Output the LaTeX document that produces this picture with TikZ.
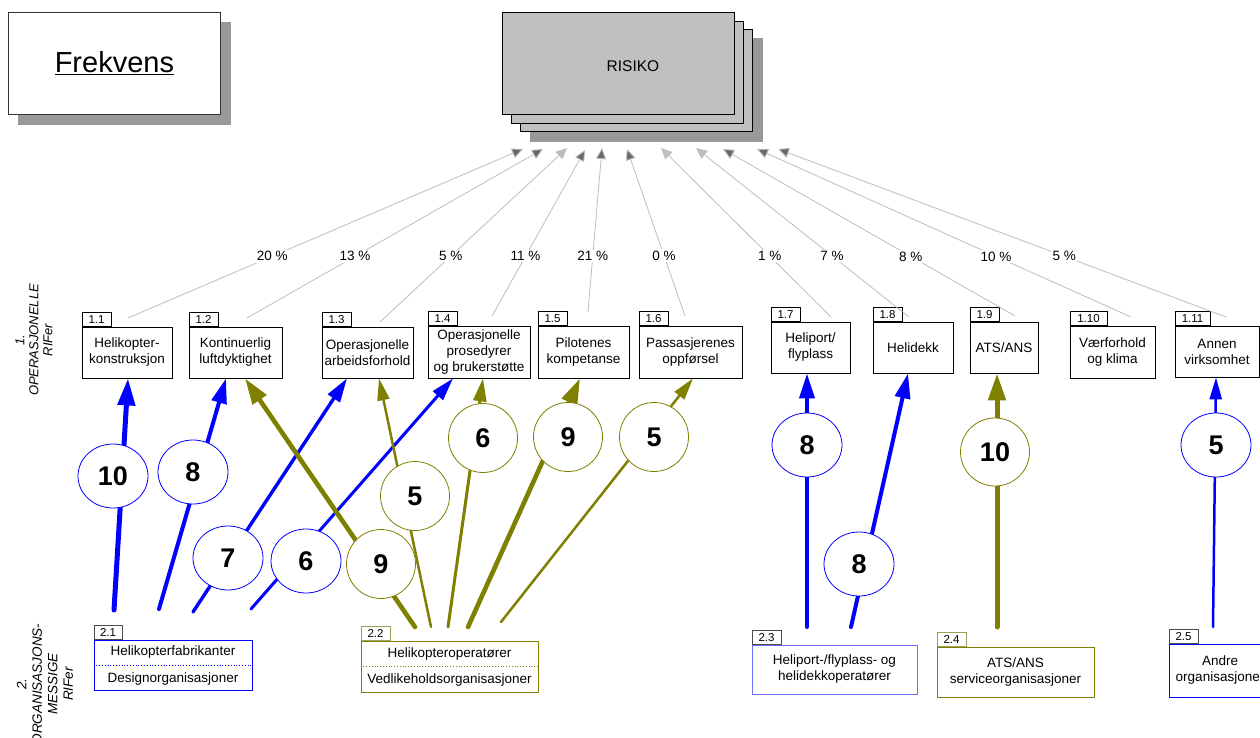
\documentclass[tikz,border=0pt]{standalone}
\usepackage{fontspec}
\setmainfont{Liberation Sans}
\usetikzlibrary{arrows.meta,shapes.geometric}
\definecolor{myblue}{RGB}{0,0,255}
\definecolor{myolive}{RGB}{128,128,0}
\definecolor{shadowgray}{RGB}{153,153,153}
\definecolor{riskgray}{RGB}{192,192,192}
\definecolor{linegray}{RGB}{190,190,190}
\definecolor{hatchgray}{RGB}{105,105,105}
\definecolor{lightblue}{RGB}{110,110,255}
\definecolor{tabolive}{RGB}{160,160,90}
\begin{document}
\begin{tikzpicture}[x=1pt,y=-1pt,
  rif/.style={draw=black, line width=0.8pt, fill=white, align=center,
    font=\fontsize{13.5}{16}\selectfont, inner sep=0pt},
  tab/.style={draw=black, line width=0.8pt, fill=white, anchor=south west,
    font=\fontsize{11.5}{12}\selectfont, inner sep=0pt, minimum height=14pt, minimum width=29pt},
  orgbox/.style={line width=0.8pt, fill=white, align=center,
    font=\fontsize{13.5}{16}\selectfont, inner sep=0pt},
  orgtxt/.style={font=\fontsize{13.5}{16}\selectfont, inner sep=0pt},
  riskbox/.style={draw=black, line width=0.8pt, fill=riskgray, inner sep=0pt, anchor=north west},
  shadowbox/.style={fill=shadowgray, draw=none, inner sep=0pt, anchor=north west},
  riskline/.style={draw=linegray, line width=0.8pt, -{Triangle[length=11pt,width=10pt,fill=linegray]}},
  hatchline/.style={draw=linegray, line width=0.8pt, -{Triangle[length=11pt,width=10pt,fill=hatchgray]}},
  pct/.style={fill=white, inner sep=1.5pt, font=\fontsize{13.5}{14}\selectfont},
  bcirc/.style={ellipse, draw=myblue, line width=0.8pt, fill=white, minimum width=70pt, minimum height=64pt,
    inner sep=0pt, font=\fontsize{27}{28}\selectfont\bfseries},
  ocirc/.style={ellipse, draw=myolive, line width=0.8pt, fill=white, minimum width=69pt, minimum height=69pt,
    inner sep=0pt, font=\fontsize{27}{28}\selectfont\bfseries},
  w10/.style={line width=5pt, line cap=round, -{Triangle[length=27pt,width=17pt]}},
  w9/.style={line width=4.6pt, line cap=round, -{Triangle[length=26pt,width=16pt]}},
  w8/.style={line width=4pt, line cap=round, -{Triangle[length=25pt,width=15pt]}},
  w7/.style={line width=3.4pt, line cap=round, -{Triangle[length=24pt,width=14pt]}},
  w6/.style={line width=3pt, line cap=round, -{Triangle[length=23pt,width=13pt]}},
  w5/.style={line width=2.5pt, line cap=round, -{Triangle[length=22pt,width=12pt]}},
  sidelabel/.style={rotate=90, align=center, font=\fontsize{13}{14}\selectfont\itshape, inner sep=0pt}
]
\useasboundingbox[fill=white] (0,0) rectangle (1260,738);

% ---------- Frekvens ----------
\node[shadowbox, minimum width=213pt, minimum height=103pt] (frshadow) at (18,22) {};
\node[draw=black!80, line width=0.8pt, fill=white, minimum width=212pt, minimum height=102pt,
  inner sep=0pt, anchor=north west, font=\fontsize{29}{30}\selectfont] (frek) at (8,12) {\underline{Frekvens}};

% ---------- RISIKO ----------
\node[shadowbox, minimum width=233pt, minimum height=104pt] (rsh) at (530,38) {};
\node[riskbox, minimum width=232pt, minimum height=102pt] (r3) at (520,29) {};
\node[riskbox, minimum width=232pt, minimum height=102pt] (r2) at (511,21) {};
\node[riskbox, minimum width=232pt, minimum height=102pt] (risk) at (502,12) {};
\node[font=\fontsize{15.5}{16}\selectfont, inner sep=0pt] (risktxt) at (633,66) {RISIKO};

% ---------- side labels ----------
\node[sidelabel] (lab1) at (34,340) {1.\\OPERASJONELLE\\RIFer};
\node[sidelabel, font=\fontsize{13.5}{15.5}\selectfont\itshape] (lab2) at (45,684) {2.\\ORGANISASJONS-\\MESSIGE\\RIFer};

% ---------- operational RIF boxes ----------
\node[rif, minimum width=90pt,  minimum height=51pt] (r11) at (127,352.5) {Helikopter-\\konstruksjon};
\node[rif, minimum width=93pt,  minimum height=51pt] (r12) at (235.5,352.5) {Kontinuerlig\\luftdyktighet};
\node[rif, minimum width=91pt,  minimum height=51pt] (r13) at (367.5,352.5) {Operasjonelle\\arbeidsforhold};
\node[rif, minimum width=102pt, minimum height=52pt] (r14) at (479,352) {Operasjonelle\\prosedyrer\\og brukerstøtte};
\node[rif, minimum width=91pt,  minimum height=52pt] (r15) at (583.5,352) {Pilotenes\\kompetanse};
\node[rif, minimum width=103pt, minimum height=52pt] (r16) at (690.5,352) {Passasjerenes\\oppførsel};
\node[rif, minimum width=79pt,  minimum height=51pt] (r17) at (810.5,347.5) {Heliport/\\flyplass};
\node[rif, minimum width=80pt,  minimum height=51pt] (r18) at (913,347.5) {Helidekk};
\node[rif, minimum width=68pt,  minimum height=51pt] (r19) at (1004,347.5) {ATS/ANS};
\node[rif, minimum width=85pt,  minimum height=52pt] (r110) at (1112.5,352) {Værforhold\\og klima};
\node[rif, minimum width=84pt,  minimum height=51pt] (r111) at (1217,351.5) {Annen\\virksomhet};

\node[tab] (t11) at (r11.north west) {1.1};
\node[tab] (t12) at (r12.north west) {1.2};
\node[tab] (t13) at (r13.north west) {1.3};
\node[tab] (t14) at (r14.north west) {1.4};
\node[tab] (t15) at (r15.north west) {1.5};
\node[tab] (t16) at (r16.north west) {1.6};
\node[tab] (t17) at (r17.north west) {1.7};
\node[tab] (t18) at (r18.north west) {1.8};
\node[tab] (t19) at (r19.north west) {1.9};
\node[tab, minimum width=37pt] (t110) at (r110.north west) {1.10};
\node[tab, minimum width=35pt] (t111) at (r111.north west) {1.11};

% ---------- lines to RISIKO ----------
\coordinate (s1) at (128,318);   \coordinate (e1) at (523,149);
\coordinate (s2) at (247,318);   \coordinate (e2) at (543,149);
\coordinate (s3) at (380,322);   \coordinate (e3) at (567,148);
\coordinate (s4) at (492,316);   \coordinate (e4) at (585,150);
\coordinate (s5) at (588,312);   \coordinate (e5) at (602,148);
\coordinate (s6) at (685,316);   \coordinate (e6) at (627,149);
\coordinate (s7) at (831,317);   \coordinate (e7) at (661,148);
\coordinate (s8) at (909,317);   \coordinate (e8) at (696,148);
\coordinate (s9) at (1015,316);  \coordinate (e9) at (723,149);
\coordinate (s10) at (1131,317); \coordinate (e10) at (757,149);
\coordinate (s11) at (1226,317); \coordinate (e11) at (778,149);

\draw[hatchline] (s1) -- node[pct,pos=0.365]{20~\%} (e1);
\draw[hatchline] (s2) -- node[pct,pos=0.365]{13~\%} (e2);
\draw[riskline]  (s3) -- node[pct,pos=0.379]{5~\%} (e3);
\draw[hatchline] (s4) -- node[pct,pos=0.361]{11~\%} (e4);
\draw[hatchline] (s5) -- node[pct,pos=0.341]{21~\%} (e5);
\draw[hatchline] (s6) -- node[pct,pos=0.361]{0~\%} (e6);
\draw[riskline]  (s7) -- node[pct,pos=0.361]{1~\%} (e7);
\draw[riskline]  (s8) -- node[pct,pos=0.361]{7~\%} (e8);
\draw[hatchline] (s9) -- node[pct,pos=0.357]{8~\%} (e9);
\draw[hatchline] (s10) -- node[pct,pos=0.361]{10~\%} (e10);
\draw[hatchline] (s11) -- node[pct,pos=0.361]{5~\%} (e11);

% ---------- organisational boxes ----------
\node[orgbox, draw=myblue, minimum width=158pt, minimum height=50pt] (o21) at (173,665) {};
\node[orgtxt] (o21a) at (173,652) {Helikopterfabrikanter};
\node[orgtxt] (o21b) at (173,679) {Designorganisasjoner};
\draw[myblue, dotted, line width=0.8pt] (o21.west) -- (o21.east);
\node[tab, draw=black!70, minimum width=28pt] (t21) at (o21.north west) {2.1};

\node[orgbox, draw=myolive, minimum width=177pt, minimum height=51pt] (o22) at (449.5,666.5) {};
\node[orgtxt] (o22a) at (449.5,654) {Helikopteroperatører};
\node[orgtxt] (o22b) at (449.5,680) {Vedlikeholdsorganisasjoner};
\draw[myolive, dotted, line width=0.8pt] (o22.west) -- (o22.east);
\node[tab, draw=tabolive] (t22) at (o22.north west) {2.2};

\node[orgbox, draw=lightblue, minimum width=165pt, minimum height=49pt] (o23) at (834.5,669.5) {Heliport-/flyplass- og\\helidekkoperatører};
\node[tab, draw=black!70] (t23) at (o23.north west) {2.3};

\node[orgbox, draw=myolive, minimum width=157pt, minimum height=50pt] (o24) at (1015.5,672) {ATS/ANS\\serviceorganisasjoner};
\node[tab, draw=tabolive] (t24) at (o24.north west) {2.4};

\node[orgbox, draw=myblue, minimum width=102pt, minimum height=53pt] (o25) at (1220,670.5) {Andre\\organisasjoner};
\node[tab, draw=black!70] (t25) at (o25.north west) {2.5};

% ---------- influence arrows ----------
\coordinate (a1) at (114,610);
\coordinate (a2) at (159,609);
\coordinate (a3) at (193,612);
\coordinate (a4) at (251,609);
\coordinate (a5) at (415,627);
\coordinate (a6) at (431,627);
\coordinate (a7) at (448,627);
\coordinate (a8) at (468,627);
\coordinate (a9) at (501,622);
\coordinate (a10) at (807,627);
\coordinate (a11) at (851,627);
\coordinate (a12) at (997,627);
\coordinate (a13) at (1213,627);

\draw[w10, myblue] (a1) -- ([xshift=1pt]r11.south);
\draw[w8, myblue] (a2) -- ([xshift=-9.5pt]r12.south);
\draw[w7, myblue] (a3) -- ([xshift=-20.5pt]r13.south);
\draw[w6, myblue] (a4) -- ([xshift=-26pt]r14.south);
\draw[w9, myolive] (a5) -- ([xshift=9.5pt]r12.south);
\draw[w5, myolive] (a6) -- ([xshift=11.5pt]r13.south);
\draw[w6, myolive] (a7) -- ([xshift=4pt]r14.south);
\draw[w9, myolive] (a8) -- ([xshift=-3.5pt]r15.south);
\draw[w5, myolive] (a9) -- ([xshift=2.5pt]r16.south);
\draw[w8, myblue] (a10) -- ([xshift=-3.5pt]r17.south);
\draw[w8, myblue] (a11) -- ([xshift=-5pt]r18.south);
\draw[w10, myolive] (a12) -- ([xshift=-7pt]r19.south);
\draw[w5, myblue] (a13) -- ([xshift=-1pt]r111.south);

% ---------- weight circles ----------
\node[bcirc] (c1) at (113,476) {10};
\node[bcirc] (c2) at (193,472) {8};
\node[bcirc] (c3) at (228,558) {7};
\node[bcirc] (c4) at (306,561) {6};
\node[ocirc] (c5) at (381,564) {9};
\node[ocirc] (c6) at (415,496) {5};
\node[ocirc] (c7) at (483,438) {6};
\node[ocirc] (c8) at (568,437) {9};
\node[ocirc] (c9) at (654,437) {5};
\node[bcirc] (c10) at (807,445) {8};
\node[bcirc] (c11) at (859,564) {8};
\node[ocirc, minimum height=68pt] (c12) at (995,452) {10};
\node[bcirc] (c13) at (1216,445) {5};
\end{tikzpicture}
\end{document}
